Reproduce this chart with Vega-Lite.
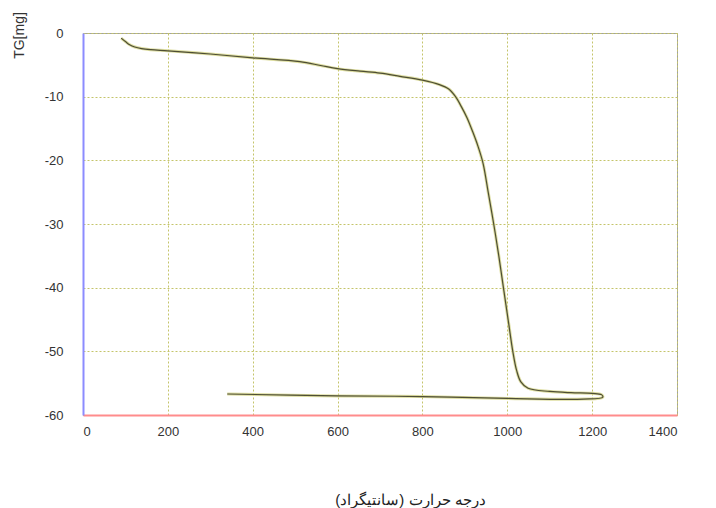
{
  "$schema": "https://vega.github.io/schema/vega-lite/v6.json",
  "width": 594,
  "height": 382,
  "autosize": "none",
  "padding": {"left": 83, "top": 33, "right": 39, "bottom": 93},
  "background": "white",
  "config": {
    "font": "Liberation Sans",
    "view": {"stroke": "#a0a0a0", "strokeWidth": 1},
    "axis": {
      "grid": true,
      "gridColor": "#c4c46a",
      "gridDash": [2, 2],
      "gridWidth": 1,
      "gridOpacity": 1,
      "ticks": false,
      "labelFont": "Liberation Sans",
      "labelFontSize": 13,
      "labelColor": "#333333",
      "titleFont": "Liberation Sans",
      "titleColor": "#333333",
      "titleFontWeight": "normal"
    }
  },
  "data": {
    "values": [
      {"seq": 1, "temp": 90, "tg": -0.8},
      {"seq": 2, "temp": 100, "tg": -1.35},
      {"seq": 3, "temp": 110, "tg": -1.85},
      {"seq": 4, "temp": 122, "tg": -2.2},
      {"seq": 5, "temp": 138, "tg": -2.45},
      {"seq": 6, "temp": 160, "tg": -2.62},
      {"seq": 7, "temp": 200, "tg": -2.8},
      {"seq": 8, "temp": 300, "tg": -3.3},
      {"seq": 9, "temp": 400, "tg": -3.9},
      {"seq": 10, "temp": 511, "tg": -4.5},
      {"seq": 11, "temp": 560, "tg": -5.1},
      {"seq": 12, "temp": 600, "tg": -5.6},
      {"seq": 13, "temp": 653, "tg": -6.0},
      {"seq": 14, "temp": 700, "tg": -6.3},
      {"seq": 15, "temp": 747, "tg": -6.8},
      {"seq": 16, "temp": 800, "tg": -7.4},
      {"seq": 17, "temp": 840, "tg": -8.1},
      {"seq": 18, "temp": 862, "tg": -8.8},
      {"seq": 19, "temp": 878, "tg": -10.0},
      {"seq": 20, "temp": 892, "tg": -11.6},
      {"seq": 21, "temp": 905, "tg": -13.3},
      {"seq": 22, "temp": 919, "tg": -15.6},
      {"seq": 23, "temp": 931, "tg": -17.8},
      {"seq": 24, "temp": 943, "tg": -20.5},
      {"seq": 25, "temp": 955, "tg": -25.0},
      {"seq": 26, "temp": 968, "tg": -30.0},
      {"seq": 27, "temp": 980, "tg": -35.0},
      {"seq": 28, "temp": 992, "tg": -40.5},
      {"seq": 29, "temp": 1003, "tg": -45.5},
      {"seq": 30, "temp": 1013, "tg": -50.0},
      {"seq": 31, "temp": 1022, "tg": -53.0},
      {"seq": 32, "temp": 1032, "tg": -54.8},
      {"seq": 33, "temp": 1049, "tg": -55.8},
      {"seq": 34, "temp": 1100, "tg": -56.3},
      {"seq": 35, "temp": 1150, "tg": -56.5},
      {"seq": 36, "temp": 1200, "tg": -56.6},
      {"seq": 37, "temp": 1222, "tg": -56.8},
      {"seq": 38, "temp": 1225, "tg": -57.2},
      {"seq": 39, "temp": 1180, "tg": -57.5},
      {"seq": 40, "temp": 1000, "tg": -57.4},
      {"seq": 41, "temp": 800, "tg": -57.1},
      {"seq": 42, "temp": 600, "tg": -57.0},
      {"seq": 43, "temp": 340, "tg": -56.7}
    ]
  },
  "encoding": {
    "x": {
      "field": "temp",
      "type": "quantitative",
      "scale": {"domain": [0, 1400], "nice": false, "zero": false},
      "axis": {
        "values": [0, 200, 400, 600, 800, 1000, 1200, 1400],
        "labelExpr": "toString(datum.value)",
        "domainColor": "#ff8c8c",
        "domainWidth": 2,
        "labelPadding": 10,
        "title": "درجه حرارت (سانتیگراد)‏",
        "titleFontSize": 15,
        "titleColor": "#222222",
        "titleX": 327,
        "titleY": 84,
        "titleAnchor": "middle",
        "titleBaseline": "middle"
      }
    },
    "y": {
      "field": "tg",
      "type": "quantitative",
      "scale": {"domain": [-60, 0], "nice": false, "zero": false},
      "axis": {
        "values": [0, -10, -20, -30, -40, -50, -60],
        "labelExpr": "toString(datum.value)",
        "domainColor": "#8c8cff",
        "domainWidth": 2,
        "labelPadding": 20,
        "title": "TG[mg]",
        "titleFontSize": 14,
        "titleAngle": -90,
        "titleX": -64,
        "titleY": 2,
        "titleAlign": "center",
        "titleBaseline": "middle"
      }
    },
    "order": {"field": "seq", "type": "quantitative"}
  },
  "layer": [
    {"mark": {"type": "line", "interpolate": "catmull-rom", "color": "#d4d48a", "strokeWidth": 3, "opacity": 0.8}},
    {"mark": {"type": "line", "interpolate": "catmull-rom", "color": "#4e4e34", "strokeWidth": 1.2}}
  ]
}
